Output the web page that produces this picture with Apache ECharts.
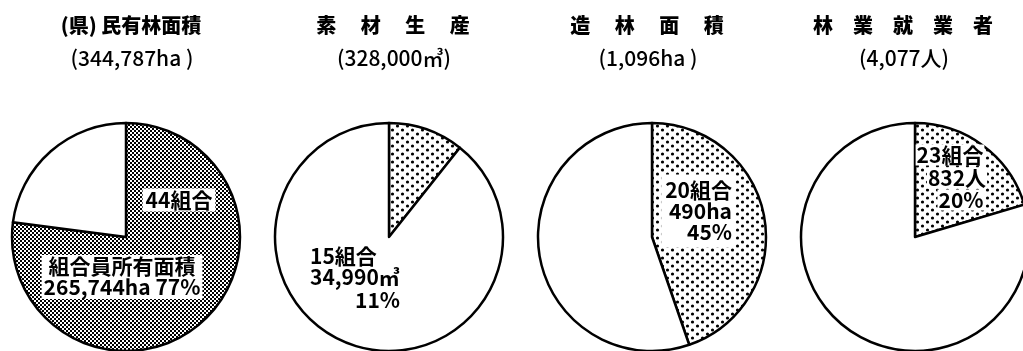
<!DOCTYPE html>
<html>
<head>
<meta charset="utf-8">
<script src="https://cdn.jsdelivr.net/npm/echarts@6/dist/echarts.min.js"></script>
<style>
  html, body { margin: 0; padding: 0; background: #fff; }
  #chart { width: 1023px; height: 351px; }
</style>
</head>
<body>
<div id="chart"></div>
<script>
// 森林組合のシェア（4項目）
const titleLines = ['(県) 民有林面積', '素　 材　 生　 産', '造　 林　 面　 積', '林　業　就　業　者'];
const totals = [344787, 328000, 1096, 4077];
const units = ['ha', '㎥', 'ha', '人'];
const unionCounts = [44, 15, 20, 23];
const memberValues = [265744, 34990, 490, 832];
const shares = [77, 11, 45, 20];
const memberCaption = '組合員所有面積';

const fmt = v => v.toLocaleString('en-US');
const FONT = '"Noto Sans CJK JP", "Noto Sans", sans-serif';

// fill patterns
function checkerPattern() {
  const c = document.createElement('canvas');
  c.width = 4; c.height = 4;
  const g = c.getContext('2d');
  g.fillStyle = '#fff'; g.fillRect(0, 0, 4, 4);
  g.fillStyle = '#000';
  g.fillRect(0, 0, 2, 2); g.fillRect(2, 2, 2, 2);
  return c;
}
function dotPattern() {
  const c = document.createElement('canvas');
  c.width = 10; c.height = 8;
  const g = c.getContext('2d');
  g.fillStyle = '#fff'; g.fillRect(0, 0, 10, 8);
  g.fillStyle = '#000';
  [[2.5, 2], [7.5, 6]].forEach(([x, y]) => {
    g.beginPath(); g.arc(x, y, 1.6, 0, Math.PI * 2); g.fill();
  });
  return c;
}
const patterns = [checkerPattern(), dotPattern(), dotPattern(), dotPattern()];

const centers = [[126, 237], [389, 237], [652, 237], [915, 237]];
const titleX = [131, 393, 647, 903];
const R = 114;

const chart = echarts.init(document.getElementById('chart'), null, { renderer: 'canvas' });

const series = totals.map((t, i) => ({
  type: 'pie',
  center: centers[i],
  radius: [0, R],
  startAngle: 90,
  clockwise: true,
  silent: true,
  animation: false,
  label: { show: false },
  labelLine: { show: false },
  emphasis: { disabled: true },
  itemStyle: { borderColor: '#000', borderWidth: 2.5 },
  data: [
    { value: memberValues[i], itemStyle: { color: { image: patterns[i], repeat: 'repeat' } } },
    { value: t - memberValues[i], itemStyle: { color: '#fff' } }
  ]
}));

function txt(text, x, y, opts) {
  return {
    type: 'text',
    silent: true,
    z: 100,
    style: Object.assign({
      text, x, y,
      font: 'bold 21px ' + FONT,
      fill: '#000',
      align: 'center',
      verticalAlign: 'middle'
    }, opts || {})
  };
}

const graphics = [];
// headings
titleLines.forEach((t, i) => {
  graphics.push(txt(t, titleX[i], 25, { font: '900 20px ' + FONT }));
  const sp = units[i] === 'ha' ? ' ' : '';
  graphics.push(txt('(' + fmt(totals[i]) + units[i] + sp + ')', titleX[i] + 1, 58, { font: '500 21px ' + FONT }));
});

// labels inside the pies
graphics.push(txt(unionCounts[0] + '組合', 179, 200, { backgroundColor: '#fff', padding: [1, 3] }));
graphics.push(txt(memberCaption + '\n' + fmt(memberValues[0]) + units[0] + ' ' + shares[0] + '%', 122, 277,
  { backgroundColor: '#fff', padding: [1, 2], lineHeight: 21 }));

graphics.push(txt(unionCounts[1] + '組合', 310, 256, { align: 'left' }));
graphics.push(txt(fmt(memberValues[1]) + units[1], 310, 277, { align: 'left' }));
graphics.push(txt(shares[1] + '%', 400, 300, { align: 'right' }));

graphics.push(txt(unionCounts[2] + '組合\n' + fmt(memberValues[2]) + units[2] + '\n' + shares[2] + '%', 735, 211,
  { align: 'right', backgroundColor: '#fff', padding: [5, 3, 5, 4], lineHeight: 21 }));

graphics.push(txt(unionCounts[3] + '組合', 950, 155, { backgroundColor: '#fff', padding: [0, 1] }));
graphics.push(txt(fmt(memberValues[3]) + units[3], 957, 178, { backgroundColor: '#fff', padding: [0, 1] }));
graphics.push(txt(shares[3] + '%', 961, 200, { backgroundColor: '#fff', padding: [0, 1] }));

chart.setOption({
  backgroundColor: '#fff',
  animation: false,
  series,
  graphic: graphics
});
</script>
</body>
</html>
